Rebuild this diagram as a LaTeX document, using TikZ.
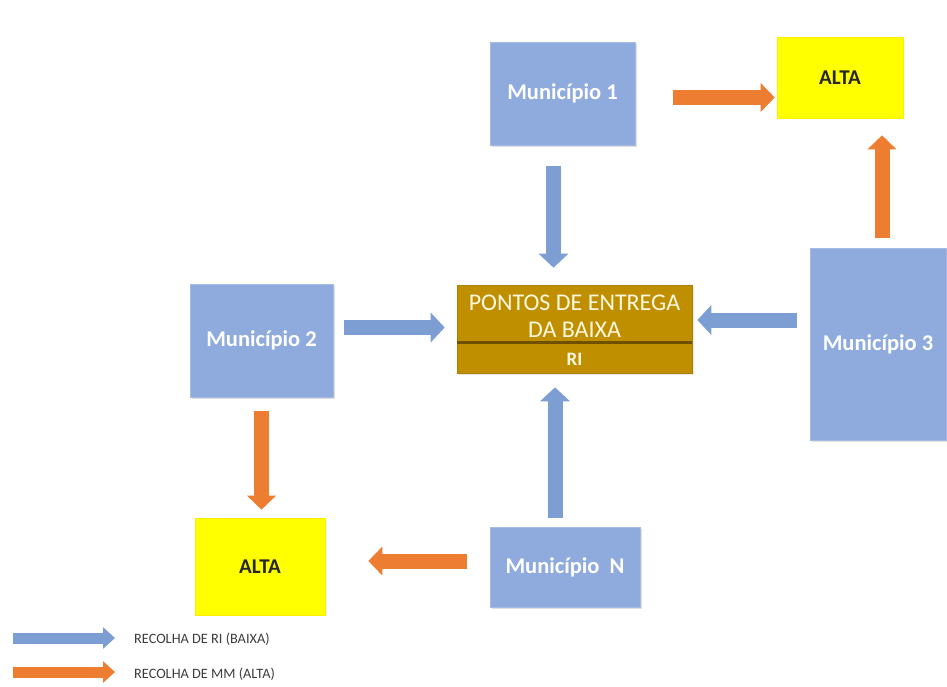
\documentclass[tikz,border=0pt]{standalone}
\usepackage{fontspec}
\setmainfont{Carlito}
\usetikzlibrary{arrows.meta,shadows}

\definecolor{boxblue}{RGB}{143,170,220}
\definecolor{arrblue}{RGB}{124,158,210}
\definecolor{arrorange}{RGB}{237,125,49}
\definecolor{pebrown}{RGB}{191,143,0}
\definecolor{pedark}{RGB}{110,80,0}
\definecolor{altayellow}{RGB}{255,255,0}
\definecolor{petext}{RGB}{255,248,225}
\definecolor{legtext}{RGB}{60,60,60}

\tikzset{
  muni/.style={rectangle, fill=boxblue, draw=boxblue!80!white, line width=1pt,
    drop shadow={opacity=0.25, shadow xshift=1.5pt, shadow yshift=-2pt},
    text=white, font=\bfseries\fontsize{22.5}{26}\selectfont, inner sep=0pt},
  alta/.style={rectangle, fill=altayellow, draw=altayellow!85!orange, line width=0.6pt,
    font=\bfseries\fontsize{21}{24}\selectfont, text=black!85, inner sep=0pt},
  pebox/.style={rectangle, fill=pebrown, draw=pebrown!90!black, line width=0.6pt,
    drop shadow={opacity=0.2, shadow xshift=1.5pt, shadow yshift=-2pt}, inner sep=0pt},
  petxt/.style={text=petext, font=\fontsize{24}{27}\selectfont, align=center, inner sep=0pt},
  barr/.style={draw=arrblue, line width=15pt, -{Triangle[length=14pt, width=29pt]}},
  oarr/.style={draw=arrorange, line width=15pt, -{Triangle[length=14pt, width=28pt]}},
  barrsmall/.style={draw=arrblue, line width=11pt, -{Triangle[length=12pt, width=21pt]}},
  oarrsmall/.style={draw=arrorange, line width=11pt, -{Triangle[length=12pt, width=21pt]}},
  legtxt/.style={text=legtext, font=\fontsize{14.3}{16}\selectfont, anchor=west, inner sep=0pt},
}

\begin{document}
\begin{tikzpicture}[x=1pt, y=-1pt]
\useasboundingbox (0,0) rectangle (947,686);

% boxes
\node[muni, minimum width=145pt, minimum height=103pt] (m1) at (562.5,93.5) {Município 1};
\node[alta, minimum width=126pt, minimum height=81pt] (altaT) at (840,77.5) {ALTA};
\node[muni, minimum width=143pt, minimum height=113pt] (m2) at (261.5,340.5) {Município 2};
\node[muni, minimum width=136pt, minimum height=192pt] (m3) at (878,344) {Município 3};
\node[alta, minimum width=130pt, minimum height=97pt] (altaB) at (260,566.5) {ALTA};
\node[muni, minimum width=150pt, minimum height=80pt] (mN) at (565,567) {Município~~N};

% collection point box
\node[pebox, minimum width=235pt, minimum height=88pt] (pe) at (574.5,329) {};
\draw[pedark, line width=3pt] ([yshift=-13pt]pe.west) -- ([yshift=-13pt]pe.east);
\node[petxt] (petop) at (574.5,316) {PONTOS DE ENTREGA\\DA BAIXA};
\node[petxt, font=\bfseries\fontsize{19}{22}\selectfont] (peri) at (574.5,359) {RI};

% collection flows
\draw[oarr, shorten <=37pt, shorten >=2pt] ([yshift=-4pt]m1.east) -- ([yshift=-4pt]m1.east -| altaT.west);
\draw[barr, shorten <=20pt, shorten >=17pt] ([xshift=-9pt]m1.south) -- ([xshift=-9pt]m1.south |- pe.north);
\draw[barr, shorten <=10pt, shorten >=12pt] ([yshift=13pt]m2.east) -- ([yshift=13pt]m2.east -| pe.west);
\draw[barr, shorten <=13pt, shorten >=5pt] ([yshift=24pt]m3.west) -- ([yshift=24pt]m3.west -| pe.east);
\draw[oarr, shorten <=10pt, shorten >=17pt] ([xshift=4pt]m3.north) -- ([xshift=4pt]m3.north |- altaT.south);
\draw[oarr, shorten <=13pt, shorten >=8pt] (m2.south) -- (m2.south |- altaB.north);
\draw[barr, shorten <=9pt, shorten >=14pt] ([xshift=-10pt]mN.north) -- ([xshift=-10pt]mN.north |- pe.south);
\draw[oarr, shorten <=23pt, shorten >=43pt] ([yshift=6pt]mN.west) -- ([yshift=6pt]mN.west -| altaB.east);

% legend
\coordinate (lb) at (13,638);
\coordinate (lo) at (13,672);
\node[legtxt] (ltb) at (134,639) {RECOLHA DE RI (BAIXA)};
\node[legtxt] (lto) at (134,674) {RECOLHA DE MM (ALTA)};
\draw[barrsmall, shorten >=19pt] (lb) -- (lb -| ltb.west);
\draw[oarrsmall, shorten >=19pt] (lo) -- (lo -| lto.west);
\end{tikzpicture}
\end{document}
